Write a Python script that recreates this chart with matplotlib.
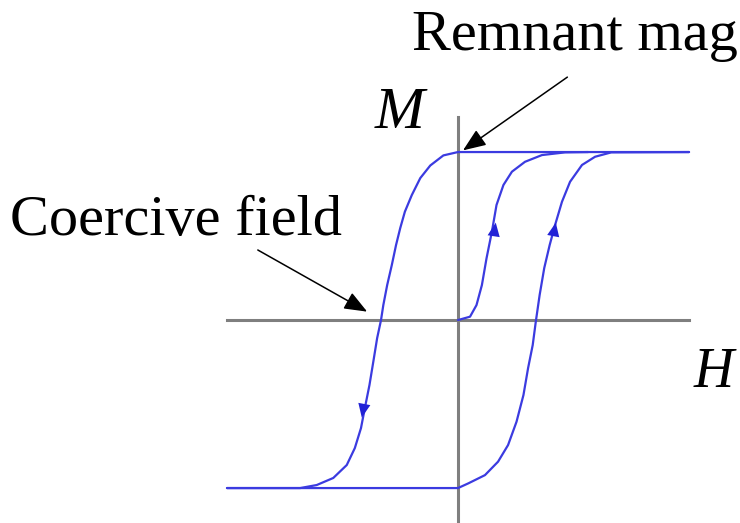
import matplotlib
matplotlib.use("Agg")
import matplotlib.pyplot as plt

# hysteresis loop, values (H in units of ~coercive field, M normalised)
H_down = [3.0, 0.0, -0.19, -0.36, -0.49, -0.60, -0.69, -0.75, -0.805, -0.86, -0.92, -0.97,
          -1.00, -1.05, -1.10, -1.15, -1.21, -1.26, -1.34, -1.445, -1.62, -1.835, -2.05, -3.0]
M_down = [1.0, 1.0, 0.98, 0.92, 0.845, 0.744, 0.645, 0.548, 0.446, 0.327, 0.208, 0.089,
          0.0, -0.107, -0.248, -0.387, -0.524, -0.643, -0.762, -0.863, -0.94, -0.982, -1.0, -1.0]

H_up = [-3.0, 0.0, 0.134, 0.35, 0.52, 0.65, 0.76, 0.85, 0.91, 0.97, 1.01, 1.06,
        1.12, 1.19, 1.26, 1.35, 1.455, 1.61, 1.78, 1.99, 3.0]
M_up = [-1.0, -1.0, -0.972, -0.923, -0.843, -0.744, -0.605, -0.446, -0.286, -0.149, -0.01, 0.149,
        0.31, 0.446, 0.565, 0.704, 0.823, 0.923, 0.972, 0.998, 1.0]

# initial magnetisation curve
H_init = [0.0, 0.156, 0.24, 0.31, 0.37, 0.44, 0.50, 0.59, 0.70, 0.87, 1.09, 1.39, 1.69]
M_init = [0.0, 0.02, 0.089, 0.208, 0.367, 0.526, 0.685, 0.804, 0.883, 0.942, 0.982, 0.998, 1.0]

# arrow heads along the curves: (tip H, tip M, dH, dM)
flow_arrows = [(-1.25, -0.58, -0.05, -0.12),
               (0.49, 0.58, 0.04, 0.12),
               (1.27, 0.58, 0.05, 0.12)]

blue = '#3b3be0'
dark_blue = '#2222d6'
grey = '#7f7f7f'
serif = ['Liberation Serif', 'DejaVu Serif']

fig = plt.figure(figsize=(7.4, 5.23), dpi=100)
ax = fig.add_axes([0, 0, 1, 1])
ax.set_xlim(-5.948, 3.662)
ax.set_ylim(-1.208, 1.905)
ax.axis('off')

# axes of the sketch
ax.plot([-3.0, 3.0], [0, 0], color=grey, lw=2.2, zorder=1)
ax.plot([0, 0], [-1.21, 1.208], color=grey, lw=2.2, zorder=1)

for hh, mm in [(H_down, M_down), (H_up, M_up), (H_init, M_init)]:
    ax.plot(hh, mm, color=blue, lw=1.6, zorder=2,
            solid_joinstyle='round', solid_capstyle='round')

for h, m, dh, dm in flow_arrows:
    ax.annotate('', xy=(h, m), xytext=(h - dh, m - dm),
                arrowprops=dict(arrowstyle='-|>,head_length=0.45,head_width=0.2',
                                color=dark_blue, lw=0, shrinkA=0, shrinkB=0,
                                mutation_scale=22), zorder=3)

# labels
ax.annotate('', xy=(0.065, 1.01), xytext=(1.42, 1.446),
            arrowprops=dict(arrowstyle='-|>,head_length=0.7,head_width=0.28',
                            color='black', lw=1.1, shrinkA=0, shrinkB=0,
                            mutation_scale=20))
ax.annotate('', xy=(-1.18, 0.05), xytext=(-2.60, 0.417),
            arrowprops=dict(arrowstyle='-|>,head_length=0.7,head_width=0.28',
                            color='black', lw=1.1, shrinkA=0, shrinkB=0,
                            mutation_scale=20))

ax.text(-0.60, 1.607, 'Remnant mag', family=serif, fontsize=42,
        ha='left', va='baseline')
ax.text(-5.82, 0.506, 'Coercive field', family=serif, fontsize=42,
        ha='left', va='baseline')
ax.text(-1.078, 1.143, 'M', family=serif, fontstyle='italic', fontsize=43,
        ha='left', va='baseline')
ax.text(3.055, -0.399, 'H', family=serif, fontstyle='italic', fontsize=40,
        ha='left', va='baseline')

fig.savefig('out.png', dpi=100)
